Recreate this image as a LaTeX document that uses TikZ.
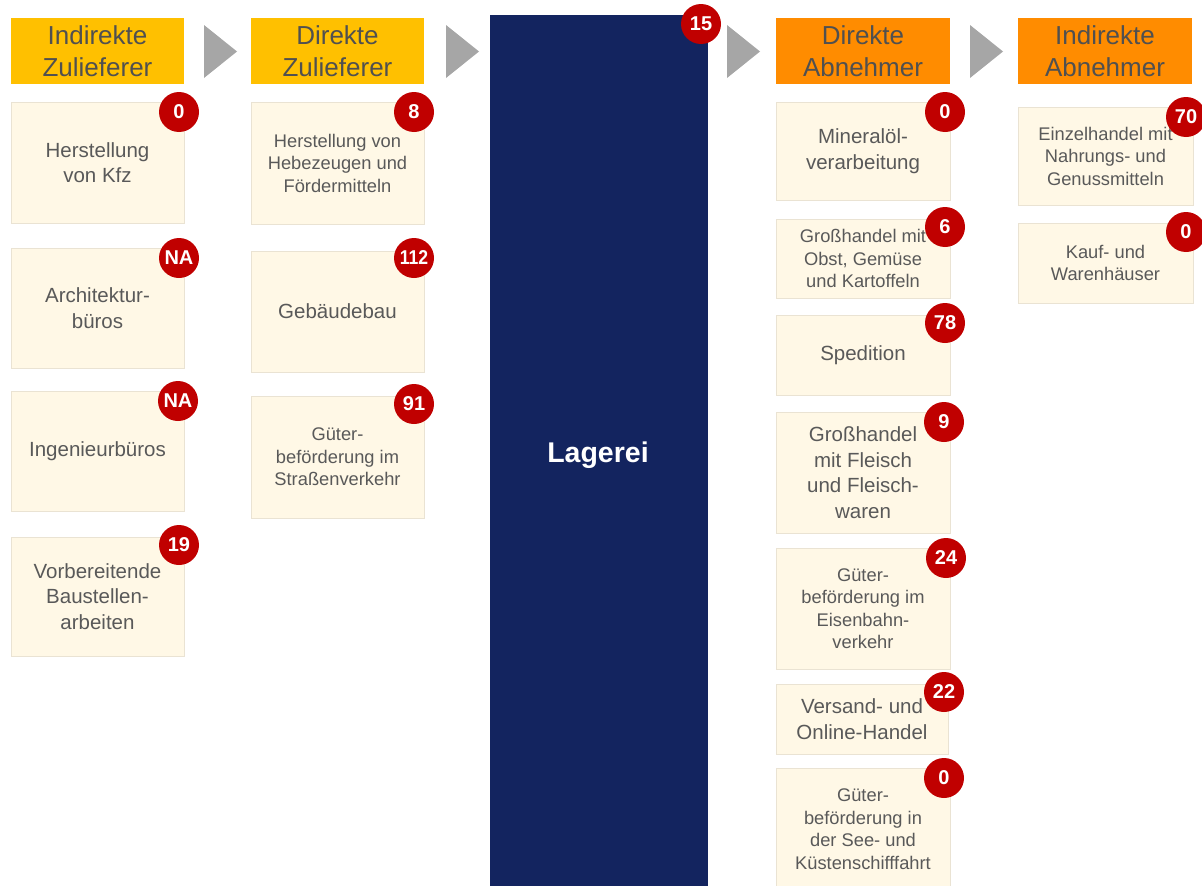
\documentclass[tikz,border=0pt]{standalone}
\usepackage{fontspec}
\setmainfont{Liberation Sans}
\definecolor{hdrA}{HTML}{FFC000}
\definecolor{hdrB}{HTML}{FF8C00}
\definecolor{boxfill}{HTML}{FFF8E6}
\definecolor{boxline}{HTML}{EAE3D3}
\definecolor{txt}{HTML}{595959}
\definecolor{hdrtxt}{HTML}{505050}
\definecolor{navy}{HTML}{13245F}
\definecolor{badgered}{HTML}{C00000}
\definecolor{arrgray}{HTML}{A6A6A6}
\begin{document}
\begin{tikzpicture}[x=1pt,y=-1pt,
  hdr/.style={minimum width=173pt, minimum height=66pt, inner sep=0pt, align=center, text=hdrtxt, font=\fontsize{26}{32}\selectfont},
  box/.style={draw=boxline, line width=0.8pt, fill=boxfill, inner sep=0pt, align=center, text=txt, minimum width=173pt},
  big/.style={font=\fontsize{20.5}{25.5}\selectfont},
  small/.style={font=\fontsize{18.3}{22.5}\selectfont},
  badge/.style={circle, fill=badgered, minimum size=40pt, inner sep=0pt, text=white, font=\bfseries\fontsize{20}{20}\selectfont},
  chev/.style={fill=arrgray}
]
\useasboundingbox (0,0) rectangle (1202,886);
\clip (0,0) rectangle (1202,886);

% headers
\node[hdr, fill=hdrA] (h1) at (97.5,51) {Indirekte\\Zulieferer};
\node[hdr, fill=hdrA] (h2) at (337.5,51) {Direkte\\Zulieferer};
\node[hdr, fill=hdrB, minimum width=174pt] (h4) at (863,51) {Direkte\\Abnehmer};
\node[hdr, fill=hdrB, minimum width=174pt] (h5) at (1105,51) {Indirekte\\Abnehmer};

% chevrons
\fill[chev] (204,25) -- (237,51.5) -- (204,78) -- cycle;
\fill[chev] (446,25) -- (479,51.5) -- (446,78) -- cycle;
\fill[chev] (727,25) -- (760,51.5) -- (727,78) -- cycle;
\fill[chev] (970,25) -- (1003,51.5) -- (970,78) -- cycle;

% central
\node[fill=navy, minimum width=218pt, minimum height=875pt, inner sep=0pt] (lager) at (599,452.5) {};
\node[text=white, font=\bfseries\fontsize{28.5}{34}\selectfont, inner sep=0pt] (lagertxt) at (598,455) {Lagerei};

% column 1
\node[box, big, minimum height=121pt] (kfz) at (97.5,162.5) {Herstellung\\von Kfz};
\node[box, big, minimum height=120pt] (arch) at (97.5,308) {Architektur-\\büros};
\node[box, big, minimum height=120pt] (ing) at (97.5,451) {Ingenieurbüros};
\node[box, big, minimum height=119pt] (vor) at (97.5,596.5) {Vorbereitende\\Baustellen-\\arbeiten};

% column 2
\node[box, small, minimum height=122pt] (heb) at (337.5,163) {Herstellung von\\Hebezeugen und\\Fördermitteln};
\node[box, big, minimum height=121pt] (geb) at (337.5,311.5) {Gebäudebau};
\node[box, small, minimum height=122pt] (gst) at (337.5,457) {Güter-\\beförderung im\\Straßenverkehr};

% column 4
\node[box, big, minimum width=174pt, minimum height=98pt] (min) at (863,151) {Mineralöl-\\verarbeitung};
\node[box, small, minimum width=174pt, minimum height=79pt] (obst) at (863,258.5) {Großhandel mit\\Obst, Gemüse\\und Kartoffeln};
\node[box, big, minimum width=174pt, minimum height=80pt] (sped) at (863,355) {Spedition};
\node[box, big, minimum width=174pt, minimum height=121pt] (fle) at (863,472.5) {Großhandel\\mit Fleisch\\und Fleisch-\\waren};
\node[box, small, minimum width=174pt, minimum height=121pt] (eis) at (863,608.5) {Güter-\\beförderung im\\Eisenbahn-\\verkehr};
\node[box, big, minimum width=172pt, minimum height=70pt] (ver) at (862,719) {Versand- und\\Online-Handel};
\node[box, small, minimum width=174pt, minimum height=122pt] (see) at (863,829) {Güter-\\beförderung in\\der See- und\\Küstenschifffahrt};

% column 5
\node[box, small, minimum width=175pt, minimum height=98pt] (ein) at (1105.5,156) {Einzelhandel mit\\Nahrungs- und\\Genussmitteln};
\node[box, small, minimum width=175pt, minimum height=80pt] (kauf) at (1105.5,263) {Kauf- und\\Warenhäuser};

% badges
\node[badge] (b15) at (701,24) {15};
\node[badge] (bkfz) at (179,112) {0};
\node[badge] (barch) at (179,258) {NA};
\node[badge] (bing) at (178,401) {NA};
\node[badge] (bvor) at (179,545) {19};
\node[badge] (bheb) at (414,112) {8};
\node[badge] (bgeb) at (414,258) {\scalebox{0.88}[1]{112}};
\node[badge] (bgst) at (414,404) {91};
\node[badge] (bmin) at (945,112) {0};
\node[badge] (bobst) at (945,227) {6};
\node[badge] (bsped) at (945,323) {78};
\node[badge] (bfle) at (944,422) {9};
\node[badge] (beis) at (946,558) {24};
\node[badge] (bver) at (944,692) {22};
\node[badge] (bsee) at (944,778) {0};
\node[badge] (bein) at (1186,117) {70};
\node[badge] (bkauf) at (1186,232) {0};
\end{tikzpicture}
\end{document}
